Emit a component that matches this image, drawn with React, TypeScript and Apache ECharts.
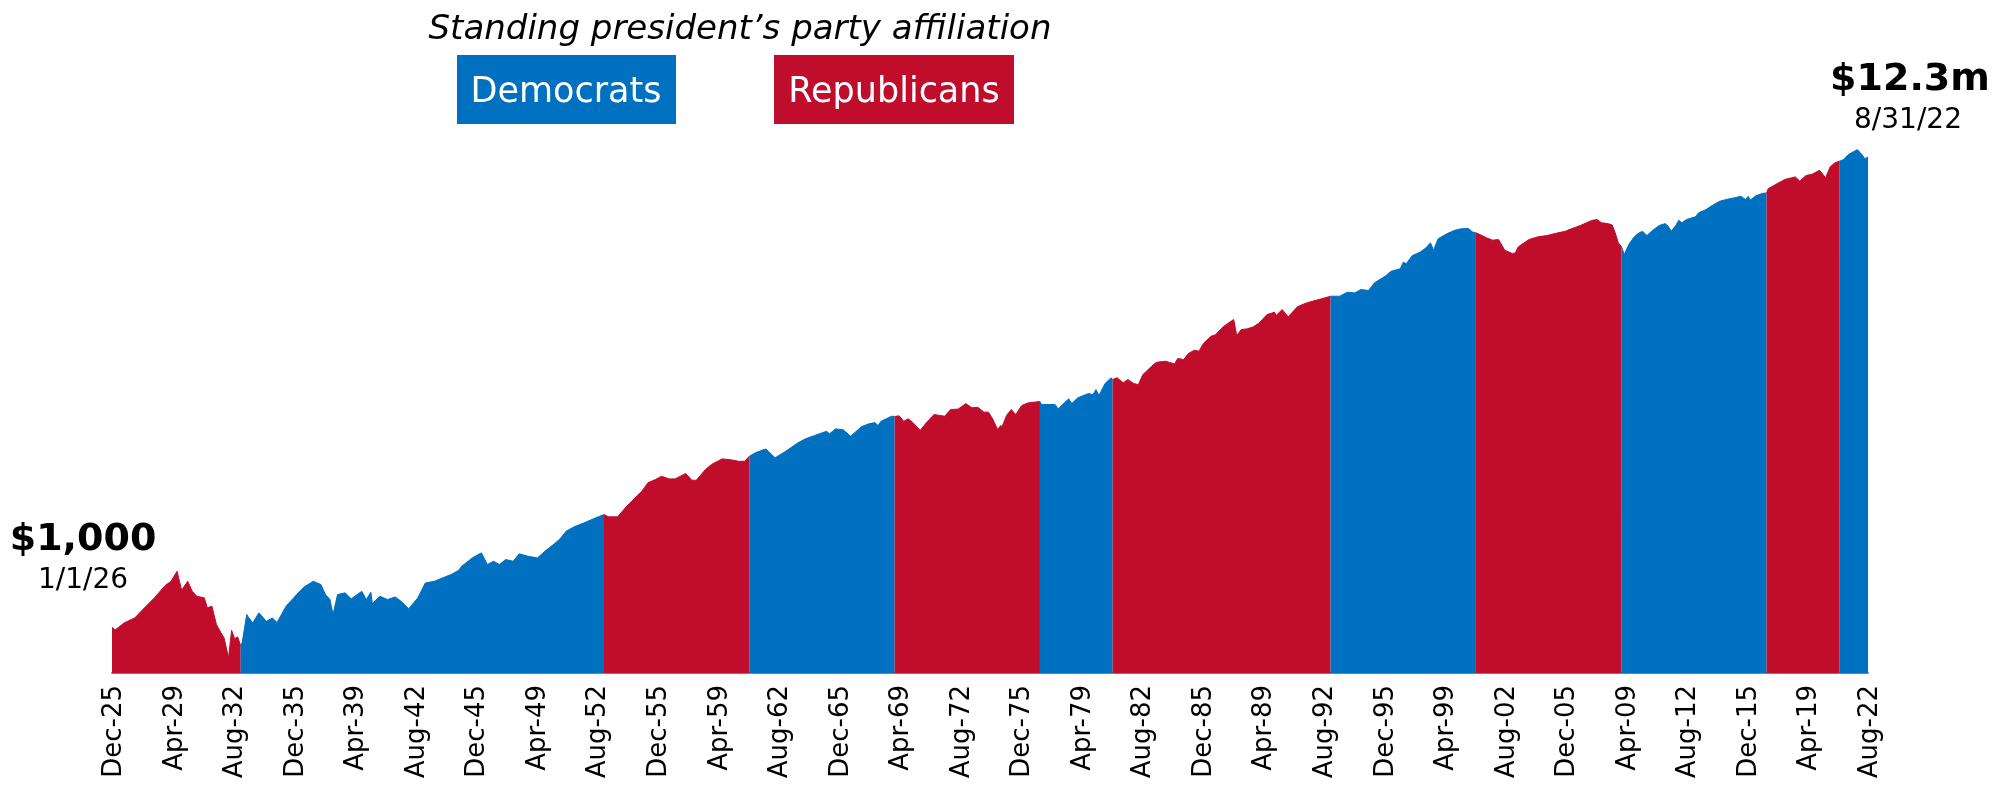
import React, { useEffect, useRef } from "react";
import * as echarts from "echarts";

// x tick labels, one every 40 months starting Dec-25 (month index 0)
const tickLabels = [
  "Dec-25", "Apr-29", "Aug-32", "Dec-35", "Apr-39", "Aug-42", "Dec-45", "Apr-49",
  "Aug-52", "Dec-55", "Apr-59", "Aug-62", "Dec-65", "Apr-69", "Aug-72", "Dec-75",
  "Apr-79", "Aug-82", "Dec-85", "Apr-89", "Aug-92", "Dec-95", "Apr-99", "Aug-02",
  "Dec-05", "Apr-09", "Aug-12", "Dec-15", "Apr-19", "Aug-22",
];

// month index at which each presidency block starts, and its party
const termStarts = [0, 85, 325, 421, 517, 613, 661, 805, 901, 997, 1093, 1141];
const termParties = ["R", "D", "R", "D", "R", "D", "R", "D", "R", "D", "R", "D"];
const lastMonth = 1160;

// growth of $1,000: [month index since Dec-25, value in $]
const growth: [number, number][] = [
  [0, 1000], [2, 945], [8, 1090], [15, 1205], [22, 1500], [28, 1800], [35, 2300], [39, 2510],
  [43, 3070], [46, 2100], [50, 2510], [53, 2055], [56, 1860], [61, 1800], [63, 1475], [66, 1525],
  [69, 1055], [72, 895], [74, 810], [77, 542], [79, 940], [81, 795], [83, 825], [85, 690],
  [86, 735], [89, 1290], [90, 1230], [93, 1090], [97, 1335], [102, 1125], [106, 1205], [109, 1100],
  [115, 1525], [122, 1925], [127, 2245], [133, 2510], [138, 2350], [141, 1925], [144, 1740], [146, 1290],
  [149, 1925], [154, 1990], [158, 1765], [165, 2055], [168, 1740], [171, 2015], [172, 1605], [177, 1860],
  [182, 1740], [187, 1835], [191, 1680], [196, 1445], [202, 1800], [207, 2430], [213, 2510], [220, 2740],
  [224, 2870], [229, 3130], [231, 3390], [238, 4010], [244, 4435], [248, 3510], [252, 3750], [256, 3510],
  [260, 3880], [265, 3750], [269, 4345], [275, 4140], [281, 4010], [286, 4580], [293, 5420], [296, 5870],
  [297, 6100], [300, 6840], [306, 7550], [312, 8090], [318, 8770], [325, 9550],
  [328, 9120], [334, 9120], [340, 11270], [345, 13100], [350, 15240], [354, 18040], [359, 19250], [363, 20560],
  [368, 19500], [372, 19500], [379, 21720], [383, 18970], [386, 18970], [392, 23500], [396, 26000], [403, 29100],
  [408, 28700], [414, 27730], [418, 27730], [421, 30690],
  [425, 32880], [432, 35560], [438, 29720], [445, 33870], [453, 40080], [458, 43450], [464, 46450], [472, 50580],
  [474, 48080], [478, 53090], [483, 52050], [488, 45810], [495, 55330], [500, 58750], [504, 60160], [506, 56750],
  [508, 61800], [515, 68390], [517, 68000],
  [520, 68900], [523, 61800], [526, 64890], [529, 60160], [534, 51660], [538, 60160], [543, 70790], [546, 69700],
  [550, 68390], [554, 78150], [559, 78900], [564, 88090], [568, 80900], [572, 81800], [576, 74150], [579, 74150],
  [582, 63970], [585, 52360], [587, 56750], [588, 55500], [591, 69700], [594, 78150], [597, 70790], [601, 84720],
  [605, 89320], [613, 91840],
  [614, 86500], [623, 86500], [625, 78900], [628, 86500], [632, 96880], [634, 88090], [638, 98860], [645, 107600],
  [648, 105400], [650, 116600], [652, 103500], [656, 131500], [660, 147600], [661, 142600],
  [664, 147600], [668, 133400], [671, 142600], [675, 131500], [678, 128800], [681, 157400], [688, 192300], [690, 201400],
  [696, 205600], [702, 195000], [704, 217300], [708, 212800], [711, 239900], [715, 256500], [718, 251400], [721, 293200],
  [726, 338800], [729, 350100], [734, 409500], [737, 437600], [741, 474000], [743, 344400], [746, 388000], [750, 393200],
  [754, 409500], [758, 443800], [763, 523500], [768, 548600], [769, 512900], [773, 579300], [777, 500300], [783, 611300],
  [788, 653300], [793, 683700], [799, 717400], [805, 755600],
  [811, 755600], [816, 818600], [821, 808000], [825, 864900], [830, 847500], [834, 988500], [841, 1127000], [845, 1247000],
  [851, 1309000], [853, 1493000], [855, 1450000], [859, 1706000], [864, 1824000], [868, 1991000], [871, 2203000], [873, 1897000],
  [876, 2383000], [882, 2648000], [887, 2831000], [891, 2911000], [896, 2940000], [899, 2723000], [901, 2692000],
  [905, 2547000], [908, 2432000], [912, 2322000], [916, 2350000], [920, 1900000], [925, 1778000], [927, 1800000], [929, 2032000],
  [936, 2350000], [942, 2483000], [948, 2547000], [953, 2648000], [960, 2774000], [964, 2911000], [970, 3112000], [974, 3289000],
  [978, 3459000], [981, 3504000], [984, 3289000], [988, 3236000], [991, 3150000], [993, 2692000], [995, 2203000], [997, 2056000],
  [999, 1742000], [1002, 2128000], [1005, 2432000], [1008, 2648000], [1011, 2774000], [1014, 2547000], [1017, 2774000], [1022, 3112000],
  [1026, 3236000], [1028, 3069000], [1030, 2774000], [1033, 3112000], [1035, 3459000], [1037, 3289000], [1040, 3504000], [1046, 3707000],
  [1048, 4009000], [1053, 4285000], [1057, 4645000], [1062, 5058000], [1068, 5307000], [1072, 5430000], [1076, 5598000], [1079, 5250000],
  [1081, 5598000], [1082, 5164000], [1086, 5650000], [1090, 5900000], [1093, 5984000],
  [1094, 6487000], [1099, 7080000], [1105, 7816000], [1112, 8245000], [1115, 7564000], [1119, 8469000], [1123, 8670000], [1128, 9420000],
  [1132, 8090000], [1135, 10070000], [1138, 10910000], [1141, 11270000],
  [1144, 11660000], [1147, 12880000], [1153, 14250000], [1156, 12880000], [1158, 11830000], [1160, 12300000],
];

const BLUE = "#0070c0";
const RED = "#bf0d2b";
const FONT = "'DejaVu Sans', sans-serif";

export default function App() {
  const ref = useRef<HTMLDivElement>(null);

  useEffect(() => {
    if (!ref.current) return;
    const chart = echarts.init(ref.current, undefined, { renderer: "svg" });

    const series = termStarts.map((start, i) => {
      const end = i + 1 < termStarts.length ? termStarts[i + 1] : lastMonth;
      const color = termParties[i] === "D" ? BLUE : RED;
      return {
        type: "line",
        data: growth.filter(([m]) => m >= start && m <= end),
        showSymbol: false,
        symbol: "none",
        silent: true,
        lineStyle: { color, width: 1 },
        itemStyle: { color },
        areaStyle: { color, opacity: 1, origin: "start" },
      };
    });

    const centered = { textAlign: "center", textVerticalAlign: "middle", align: "center", verticalAlign: "middle" };

    chart.setOption({
      animation: false,
      grid: { left: 112, right: 139, top: 100, bottom: 118, containLabel: false },
      xAxis: {
        type: "value",
        min: 0,
        max: lastMonth,
        interval: 40,
        axisLine: { show: true, onZero: false, lineStyle: { color: "#808080", width: 2 } },
        axisTick: { show: false },
        splitLine: { show: false },
        axisLabel: {
          rotate: 90,
          margin: 12,
          fontSize: 26,
          fontFamily: FONT,
          color: "#000",
          showMinLabel: true,
          showMaxLabel: true,
          hideOverlap: false,
          formatter: (v: number) => tickLabels[Math.round(v / 40)] ?? "",
        },
      },
      yAxis: {
        type: "log",
        min: 400,
        max: 38430000,
        show: false,
        splitLine: { show: false },
      },
      series,
      graphic: [
        {
          type: "text", x: 740, y: 27, z: 10,
          style: { text: "Standing president’s party affiliation", font: `italic 34px ${FONT}`, fill: "#000", ...centered },
        },
        { type: "rect", shape: { x: 457, y: 55, width: 219, height: 69 }, style: { fill: BLUE }, z: 10 },
        {
          type: "text", x: 566, y: 90, z: 11,
          style: { text: "Democrats", font: `35px ${FONT}`, fill: "#fff", ...centered },
        },
        { type: "rect", shape: { x: 774, y: 55, width: 240, height: 69 }, style: { fill: RED }, z: 10 },
        {
          type: "text", x: 894, y: 90, z: 11,
          style: { text: "Republicans", font: `35px ${FONT}`, fill: "#fff", ...centered },
        },
        {
          type: "text", x: 83, y: 537, z: 10,
          style: { text: "$1,000", font: `bold 38px ${FONT}`, fill: "#000", ...centered },
        },
        {
          type: "text", x: 83, y: 578, z: 10,
          style: { text: "1/1/26", font: `28px ${FONT}`, fill: "#000", ...centered },
        },
        {
          type: "text", x: 1910, y: 77, z: 10,
          style: { text: "$12.3m", font: `bold 38px ${FONT}`, fill: "#000", ...centered },
        },
        {
          type: "text", x: 1908, y: 118, z: 10,
          style: { text: "8/31/22", font: `28px ${FONT}`, fill: "#000", ...centered },
        },
      ],
    });

    return () => chart.dispose();
  }, []);

  return (
    <div
      ref={ref}
      style={{ position: "fixed", left: 0, top: 0, width: 2007, height: 791 }}
    />
  );
}
